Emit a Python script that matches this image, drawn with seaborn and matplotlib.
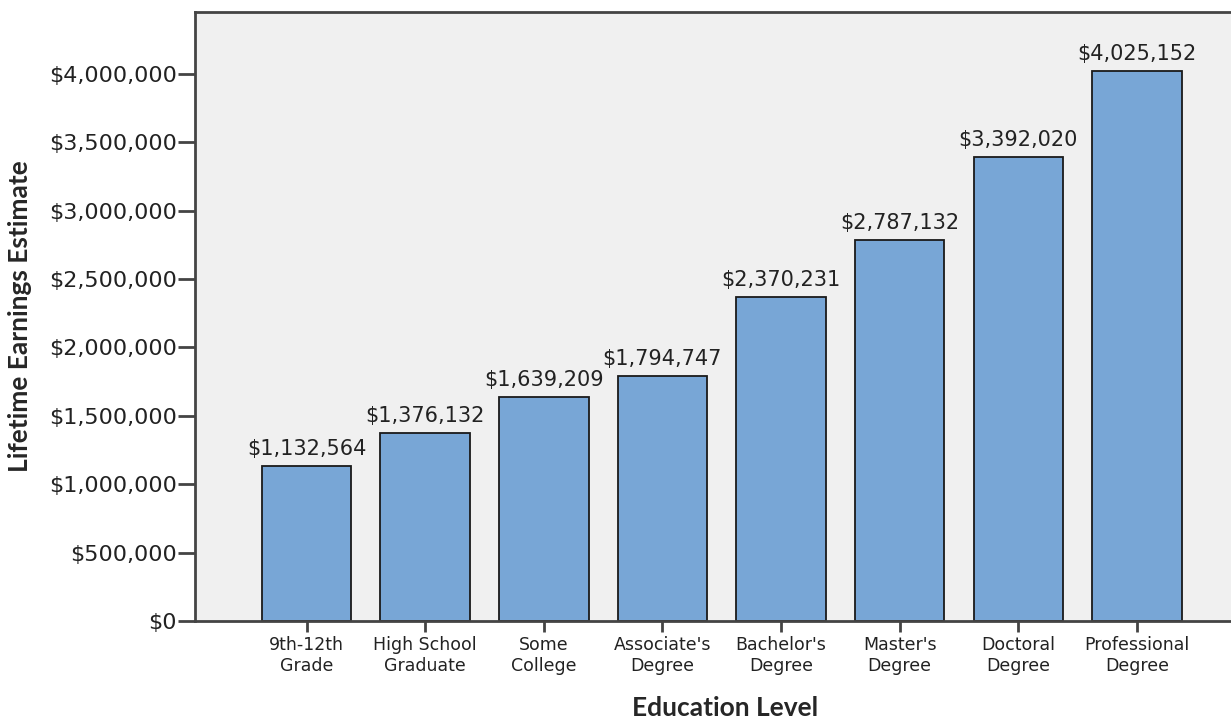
import matplotlib
matplotlib.use("Agg")
import matplotlib.pyplot as plt
import seaborn as sns
import pandas as pd
from matplotlib.ticker import FuncFormatter

# Lifetime earnings by education level
education = ["9th-12th\nGrade", "High School\nGraduate", "Some\nCollege",
             "Associate's\nDegree", "Bachelor's\nDegree", "Master's\nDegree",
             "Doctoral\nDegree", "Professional\nDegree"]
earnings = [1132564, 1376132, 1639209, 1794747, 2370231, 2787132, 3392020, 4025152]
yticks = [0, 500000, 1000000, 1500000, 2000000, 2500000, 3000000, 3500000, 4000000]

df = pd.DataFrame({"Education Level": education, "Earnings": earnings})

sns.set_style("white")
plt.rcParams["font.family"] = ["DejaVu Sans"]

fig = plt.figure(figsize=(12.31, 7.21), dpi=100)
ax = fig.add_axes([195 / 1231, 1 - 621 / 721, 1 - 195 / 1231 + 0.02, (621 - 12) / 721])
ax.set_facecolor("#f0f0f0")

sns.barplot(data=df, x="Education Level", y="Earnings", ax=ax,
            color="#78a6d6", saturation=1, width=0.755,
            edgecolor="#1a1a1a", linewidth=1.3)

ax.set_xlim(-0.94, 8.0)
ax.set_ylim(0, 4453000)
ax.set_yticks(yticks)
ax.yaxis.set_major_formatter(FuncFormatter(lambda v, p: f"${v:,.0f}"))

for side in ["left", "top", "bottom"]:
    ax.spines[side].set_visible(True)
    ax.spines[side].set_color("#444444")
    ax.spines[side].set_linewidth(2)
ax.spines["right"].set_visible(False)

ax.tick_params(axis="y", which="major", left=True, length=12, width=2,
               color="#444444", labelsize=16, pad=1, labelcolor="#222222")
ax.tick_params(axis="x", which="major", bottom=True, length=8, width=2,
               color="#444444", labelsize=12.5, pad=3, labelcolor="#222222")
for lbl in ax.get_xticklabels():
    lbl.set_linespacing(1.2)

ax.bar_label(ax.containers[0], labels=[f"${v:,.0f}" for v in earnings],
             padding=5, fontsize=15, color="#222222")

ax.set_xlabel("Education Level", fontsize=19, fontweight="bold",
              family=["Lato", "DejaVu Sans"], labelpad=15)
ax.set_ylabel("Lifetime Earnings Estimate", fontsize=19, fontweight="bold",
              family=["Lato", "DejaVu Sans"], labelpad=12)

fig.savefig("out.png", dpi=100, facecolor="white")
